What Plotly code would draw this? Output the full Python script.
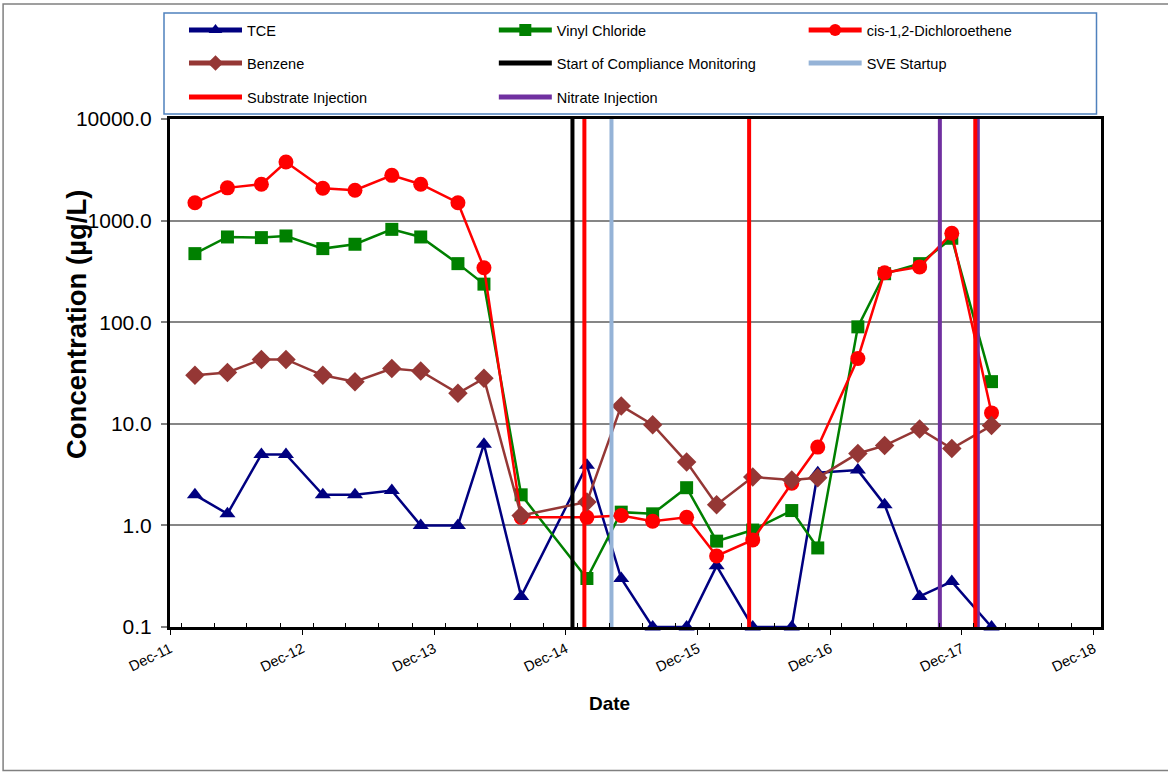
import plotly.graph_objects as go

# ---------------- data ----------------
dates = ["2012-02-08", "2012-05-08", "2012-08-10", "2012-10-17", "2013-01-27", "2013-04-26",
         "2013-08-06", "2013-10-25", "2014-02-05", "2014-04-18", "2014-07-30", "2015-01-28",
         "2015-05-03", "2015-07-29", "2015-10-31", "2016-01-22", "2016-05-01", "2016-08-17",
         "2016-10-28", "2017-02-16", "2017-05-01", "2017-08-06", "2017-11-03", "2018-02-21"]

tce = [2.0, 1.3, 5.0, 5.0, 2.0, 2.0, 2.2, 1.0, 1.0, 6.3, 0.2, 3.9,
       0.3, 0.1, 0.1, 0.4, 0.1, 0.1, 3.3, 3.5, 1.6, 0.2, 0.28, 0.1]
vinyl_chloride = [473, 690, 680, 706, 530, 585, 820, 690, 377, 237, 2.0, 0.3,
                  1.35, 1.3, 2.35, 0.7, 0.9, 1.4, 0.6, 90, 300, 377, 670, 26]
cis_dce = [1500, 2100, 2280, 3770, 2080, 1990, 2790, 2280, 1500, 344, 1.2, 1.2,
           1.25, 1.1, 1.2, 0.5, 0.72, 2.6, 5.9, 44, 307, 350, 750, 12.8]
benzene = [30, 32, 43, 43, 30, 26, 35, 33, 20, 28, 1.25, 1.7,
           15, 9.8, 4.2, 1.6, 3.0, 2.8, 2.95, 5.1, 6.1, 8.9, 5.7, 9.6]

start_compliance = ["2014-12-19"]
sve_startup = ["2015-04-06"]
substrate_injection = ["2015-01-21", "2016-04-21", "2018-01-07"]
nitrate_injection = ["2017-10-01", "2018-01-14"]

y_ticks = [0.1, 1, 10, 100, 1000, 10000]
y_min, y_max = 0.1, 10000

FONT = "Liberation Sans, Arial, sans-serif"

W, H = 1168, 773
L, R, T, B = 170, 66.5, 119, 146
pw, ph = W - L - R, H - T - B


def px_x(x):
    return (x - L) / pw


def px_y(y):
    return (H - B - y) / ph


def vlines(date_list):
    xs, ys = [], []
    for d in date_list:
        xs += [d, d, None]
        ys += [y_min, y_max, None]
    return xs, ys


# legend grid (page pixels): columns and rows
col_x = [184, 494, 804]
row_y = [30, 63, 97]

fig = go.Figure()

series = [
    ("TCE", tce, "#000080", "triangle-up", 14, (0, 0)),
    ("Vinyl Chloride", vinyl_chloride, "#008000", "square", 13, (1, 0)),
    ("cis-1,2-Dichloroethene", cis_dce, "#FF0000", "circle", 15, (2, 0)),
    ("Benzene", benzene, "#953735", "diamond", 15, (0, 1)),
]
legend_slots = {}
k = 0
for name, vals, col, sym, sz, slot in series:
    k += 1
    lg = "legend" if k == 1 else f"legend{k}"
    legend_slots[lg] = slot
    fig.add_trace(go.Scatter(
        x=dates, y=vals, name=name, mode="lines+markers",
        line=dict(color=col, width=2.5),
        marker=dict(symbol=sym, size=sz, color=col, line=dict(width=0)),
        cliponaxis=False, legend=lg))

vl = [
    ("Start of Compliance Monitoring", start_compliance, "#000000", (1, 1)),
    ("SVE Startup", sve_startup, "#95B3D7", (2, 1)),
    ("Nitrate Injection", nitrate_injection, "#7030A0", (1, 2)),
    ("Substrate Injection", substrate_injection, "#FF0000", (0, 2)),
]
for name, dl, col, slot in vl:
    k += 1
    lg = f"legend{k}"
    legend_slots[lg] = slot
    xs, ys = vlines(dl)
    fig.add_trace(go.Scatter(x=xs, y=ys, name=name, mode="lines",
                             line=dict(color=col, width=4), legend=lg))

leg_layout = {}
for lg, (c, r) in legend_slots.items():
    leg_layout[lg] = dict(
        orientation="v", xanchor="left", yanchor="middle",
        x=px_x(col_x[c]), y=px_y(row_y[r]), itemwidth=53, itemsizing="constant",
        font=dict(family=FONT, size=14.5, color="#000000"),
        bgcolor="rgba(0,0,0,0)", borderwidth=0, itemclick=False)

fig.update_layout(
    width=W, height=H,
    margin=dict(l=L, r=R, t=T, b=B, autoexpand=False),
    paper_bgcolor="white", plot_bgcolor="white",
    font=dict(family=FONT, color="#000000"),
    showlegend=True,
    xaxis=dict(
        type="date", range=["2011-12-01", "2018-12-21"],
        tick0="2011-12-01", dtick="M12", tickformat="%b-%y", tickangle=-26,
        ticks="outside", ticklen=5, tickcolor="#000000",
        ticklabelstandoff=0,
        tickfont=dict(family=FONT, size=14.5, color="#000000"),
        showgrid=False, zeroline=False,
        showline=True, linecolor="#000000", linewidth=3, mirror=True,
        minor=dict(dtick="M3", ticks="inside", ticklen=4, tickcolor="#000000", showgrid=False),
    ),
    yaxis=dict(
        type="log", range=[-1, 4], tickvals=y_ticks, tickformat=".1f",
        ticks="outside", ticklen=6, tickcolor="#808080", tickwidth=1.5,
        ticklabelstandoff=5,
        tickfont=dict(family=FONT, size=21, color="#000000"),
        showgrid=True, gridcolor="#868686", gridwidth=2, zeroline=False,
        showline=True, linecolor="#000000", linewidth=3, mirror=True,
    ),
    shapes=[
        dict(type="rect", xref="paper", yref="paper",
             x0=px_x(164), x1=px_x(1097), y0=px_y(114), y1=px_y(13),
             line=dict(color="#4F81BD", width=1.5), fillcolor="rgba(0,0,0,0)", layer="below"),
        dict(type="rect", xref="paper", yref="paper",
             x0=px_x(3), x1=px_x(1180), y0=px_y(770.5), y1=px_y(4),
             line=dict(color="#808080", width=1.5), fillcolor="rgba(0,0,0,0)", layer="below"),
    ],
    annotations=[
        dict(text="<b>Concentration (µg/L)</b>", xref="paper", yref="paper",
             x=px_x(76), y=px_y(325), textangle=-90, showarrow=False,
             xanchor="center", yanchor="middle",
             font=dict(family=FONT, size=27.5, color="#000000")),
        dict(text="<b>Date</b>", xref="paper", yref="paper",
             x=px_x(610), y=px_y(703), showarrow=False,
             xanchor="center", yanchor="middle",
             font=dict(family=FONT, size=19, color="#000000")),
    ],
    **leg_layout,
)

fig.write_html("out.html", config={"displayModeBar": False},
               post_script="document.body.style.margin='0px';")
